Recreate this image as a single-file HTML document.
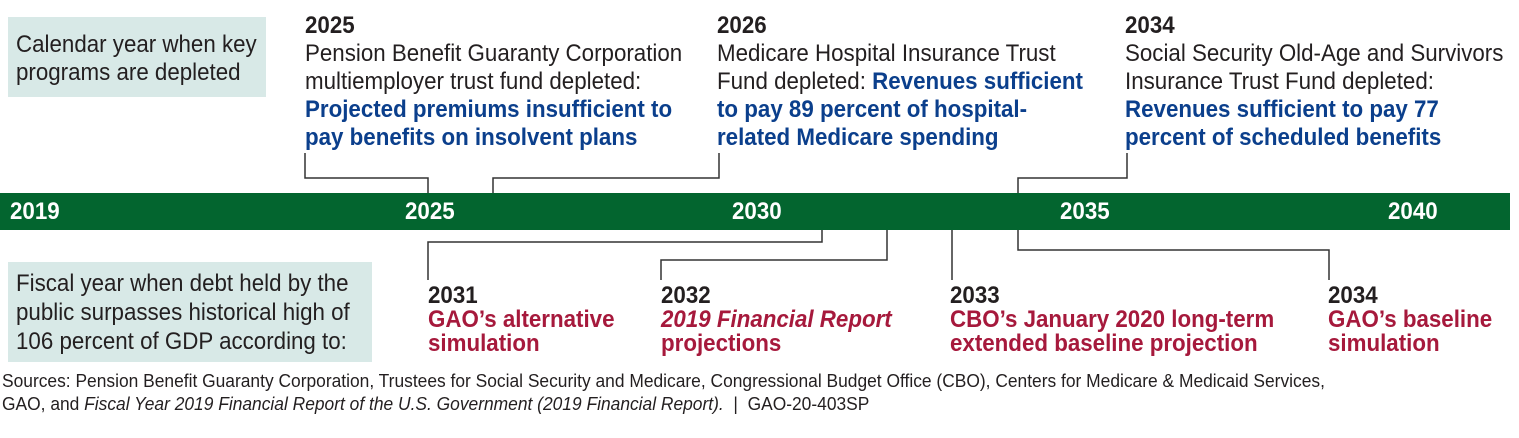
<!DOCTYPE html>
<html><head><meta charset="utf-8"><style>
body{margin:0;width:1519px;height:438px;background:#fff;position:relative;overflow:hidden;font-family:"Liberation Sans",Arial,sans-serif;}
.a{position:absolute;white-space:nowrap;transform-origin:0 0;transform:scaleX(0.93);}
.t{font-size:24px;line-height:28px;color:#231f20;}
.b{font-weight:bold;}
.blue{color:#0b3f8c;font-weight:bold;}
.red{color:#a6193c;font-weight:bold;}
.box{position:absolute;background:#d8e9e7;}
.bar{position:absolute;left:0;top:193px;width:1510px;height:37px;background:#03652f;}
.yl{position:absolute;top:198px;color:#fff;font-weight:bold;font-size:24px;transform-origin:0 0;transform:scaleX(0.93);}
.src{font-size:18.5px;line-height:23px;color:#231f20;transform:scaleX(0.94);}
</style></head><body>
<div class="box" style="left:8px;top:17px;width:258px;height:80px"></div>
<div class="a t" style="left:16px;top:31px">Calendar year when key<br>programs are depleted</div>

<div class="a t" style="left:305px;top:12px"><span class="b">2025</span><br>Pension Benefit Guaranty Corporation<br>multiemployer trust fund depleted:<br><span class="blue">Projected premiums insufficient to<br>pay benefits on insolvent plans</span></div>
<div class="a t" style="left:717px;top:12px"><span class="b">2026</span><br>Medicare Hospital Insurance Trust<br>Fund depleted: <span class="blue">Revenues sufficient<br>to pay 89 percent of hospital-<br>related Medicare spending</span></div>
<div class="a t" style="left:1125px;top:12px"><span class="b">2034</span><br>Social Security Old-Age and Survivors<br>Insurance Trust Fund depleted:<br><span class="blue">Revenues sufficient to pay 77<br>percent of scheduled benefits</span></div>

<svg style="position:absolute;left:0;top:0" width="1519" height="438">
<g fill="none" stroke="#333" stroke-width="1.5">
<polyline points="305,153 305,178 428,178 428,193"/>
<polyline points="493,193 493,178 719,178 719,153"/>
<polyline points="1127,153 1127,178 1018,178 1018,193"/>
<polyline points="822,230 822,242 428,242 428,280"/>
<polyline points="887,230 887,260 661,260 661,280"/>
<polyline points="952,230 952,280"/>
<polyline points="1018,230 1018,250 1329,250 1329,280"/>
</g></svg>

<div class="bar"></div>
<div class="yl" style="left:10px">2019</div>
<div class="yl" style="left:405px">2025</div>
<div class="yl" style="left:732px">2030</div>
<div class="yl" style="left:1060px">2035</div>
<div class="yl" style="left:1388px">2040</div>

<div class="box" style="left:8px;top:262px;width:364px;height:100px"></div>
<div class="a t" style="left:16px;top:269px;line-height:29px">Fiscal year when debt held by the<br>public surpasses historical high of<br>106 percent of GDP according to:</div>

<div class="a t" style="left:428px;top:284px;line-height:24px"><span class="b">2031</span><br><span class="red">GAO’s alternative<br>simulation</span></div>
<div class="a t" style="left:661px;top:284px;line-height:24px"><span class="b">2032</span><br><span class="red"><i>2019 Financial Report</i><br>projections</span></div>
<div class="a t" style="left:950px;top:284px;line-height:24px"><span class="b">2033</span><br><span class="red">CBO’s January 2020 long-term<br>extended baseline projection</span></div>
<div class="a t" style="left:1328px;top:284px;line-height:24px"><span class="b">2034</span><br><span class="red">GAO’s baseline<br>simulation</span></div>

<div class="a src" style="left:2px;top:369px">Sources: Pension Benefit Guaranty Corporation, Trustees for Social Security and Medicare, Congressional Budget Office (CBO), Centers for Medicare &amp; Medicaid Services,<br>GAO, and <i>Fiscal Year 2019 Financial Report of the U.S. Government (2019 Financial Report).</i> &nbsp;| &nbsp;GAO-20-403SP</div>
</body></html>
